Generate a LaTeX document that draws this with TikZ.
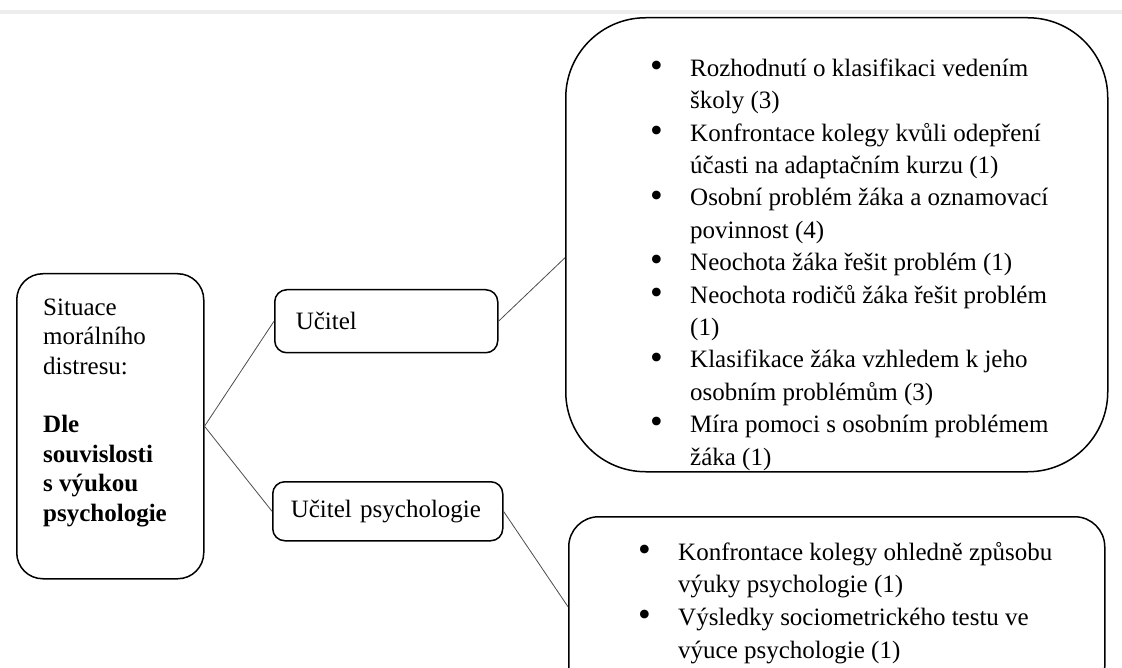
\documentclass[tikz,border=0pt]{standalone}
\usepackage{fontspec}
\setmainfont{Liberation Serif}
\usetikzlibrary{positioning}

\newcommand{\bod}{\makebox[40pt][l]{\raisebox{-0.05em}{\scalebox{1.45}{\textbullet}}}}
\newcommand{\dal}{\hspace*{40pt}}

\begin{document}
\begin{tikzpicture}[x=1pt, y=-1pt, font=\fontsize{25}{29.4}\selectfont,
  box/.style={draw, line width=1.5pt, inner sep=0pt, anchor=north west},
  spoj/.style={draw=black!70, line width=0.8pt},
  popis/.style={anchor=base west, inner sep=0pt, align=left}]
  \useasboundingbox (0,0) rectangle (1122,668);
  \clip (0,0) rectangle (1122,668);
  % pruh nahore
  \fill[black!7] (0,10) rectangle (1122,14);

  % boxy
  \node[box, rounded corners=26pt, minimum width=187pt, minimum height=305pt] (sit) at (16,273) {};
  \node[box, rounded corners=12pt, minimum width=223pt, minimum height=63pt,
        text width=181pt, inner xsep=21pt, align=left] (ucitel) at (274,289) {Učitel};
  \node[box, rounded corners=12pt, minimum width=230pt, minimum height=59pt,
        text width=194pt, inner xsep=18pt, align=left] (ucpsy) at (272,481) {\mbox{Učitel psychologie}};
  \node[box, rounded corners=80pt, minimum width=542pt, minimum height=454pt] (velky) at (565,17) {};
  \node[box, rounded corners=30pt, minimum width=536pt, minimum height=180pt] (maly) at (568,516) {};

  % texty (kotva = uctari posledniho radku)
  \node[popis] (tsit) at (43,521) {Situace\\morálního\\distresu:\\[29.4pt]
    \textbf{Dle}\\\textbf{souvislosti}\\\textbf{s výukou}\\\textbf{psychologie}};
  \node[popis, font=\fontsize{25}{32.4}\selectfont] (tvel) at (650,465) {%
    \bod Rozhodnutí o klasifikaci vedením\\
    \dal školy (3)\\
    \bod Konfrontace kolegy kvůli odepření\\
    \dal účasti na adaptačním kurzu (1)\\
    \bod Osobní problém žáka a oznamovací\\
    \dal povinnost (4)\\
    \bod Neochota žáka řešit problém (1)\\
    \bod Neochota rodičů žáka řešit problém\\
    \dal (1)\\
    \bod Klasifikace žáka vzhledem k jeho\\
    \dal osobním problémům (3)\\
    \bod Míra pomoci s osobním problémem\\
    \dal žáka (1)};
  \node[popis, font=\fontsize{25}{32.6}\selectfont] (tmal) at (638,658) {%
    \bod Konfrontace kolegy ohledně způsobu\\
    \dal výuky psychologie (1)\\
    \bod Výsledky sociometrického testu ve\\
    \dal výuce psychologie (1)};

  % spojnice
  \draw[spoj] (sit.east) -- (ucitel.west);
  \draw[spoj] (sit.east) -- (ucpsy.west);
  \draw[spoj] (ucitel.east) -- ([yshift=-13pt]velky.west);
  \draw[spoj] (ucpsy.east) -- (maly.west);
\end{tikzpicture}
\end{document}
